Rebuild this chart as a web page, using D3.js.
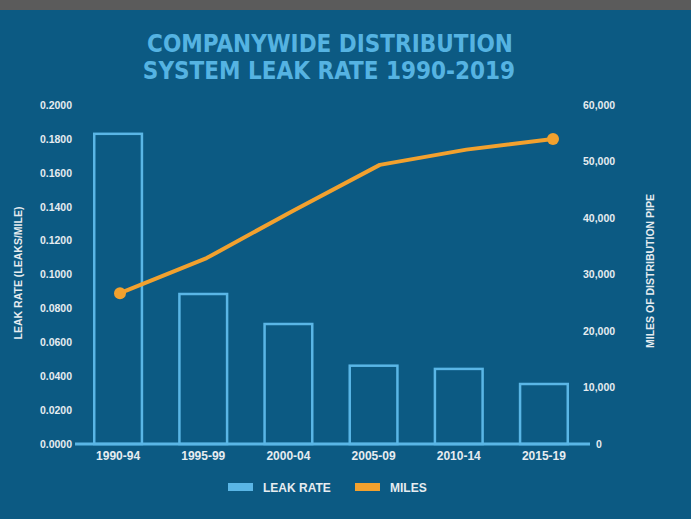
<!DOCTYPE html>
<html>
<head>
<meta charset="utf-8">
<script src="https://cdn.jsdelivr.net/npm/d3@7"></script>
<style>
  html, body { margin: 0; padding: 0; background: #0c5a83; }
  svg { display: block; }
</style>
</head>
<body>
<svg id="chart" width="691" height="519"></svg>
<script>
// data
const periods = ["1990-94", "1995-99", "2000-04", "2005-09", "2010-14", "2015-19"];
const leakRate = [0.1830, 0.0885, 0.0708, 0.0462, 0.0443, 0.0354];
const miles = [26700, 32900, 41300, 49400, 52100, 54000];
const leftTicks = [0, 0.02, 0.04, 0.06, 0.08, 0.10, 0.12, 0.14, 0.16, 0.18, 0.20];
const rightTicks = [0, 10000, 20000, 30000, 40000, 50000, 60000];

const svg = d3.select("#chart");
const W = +svg.attr("width"), H = +svg.attr("height");
const plotTop = 105, plotBottom = 444; // plot area
const barBlue = "#5ab6e6", orange = "#f2a12e", txt = "#e6ecf0";
const font = "'Liberation Sans', Arial";

// background + grey strip on top
svg.append("rect").attr("width", W).attr("height", H).attr("fill", "#0c5a83");
svg.append("rect").attr("width", W).attr("height", 10).attr("fill", "#5b5b5b");

// title
const title = svg.append("text")
  .attr("text-anchor", "middle")
  .attr("fill", "#55b3e2")
  .attr("font-family", "'DejaVu Sans Condensed', 'DejaVu Sans'")
  .attr("font-weight", "bold")
  .attr("font-size", "24px");
title.append("tspan").attr("x", 330).attr("y", 52).text("COMPANYWIDE DISTRIBUTION");
title.append("tspan").attr("x", 329).attr("y", 79).text("SYSTEM LEAK RATE 1990-2019");

// scales
const x = d3.scaleBand().domain(periods).range([75.5, 586.5])
  .paddingInner(0.44).paddingOuter(0.22);
const xLine = d3.scalePoint().domain(periods).range([120, 553]);
const yL = d3.scaleLinear().domain([0, 0.2]).range([plotBottom, plotTop]);
const yR = d3.scaleLinear().domain([0, 60000]).range([plotBottom, plotTop]);

// left axis
const axL = svg.append("g").attr("transform", "translate(72,0)")
  .call(d3.axisLeft(yL).tickValues(leftTicks).tickSize(0).tickPadding(0)
    .tickFormat(d3.format(".4f")));
axL.select(".domain").remove();
axL.selectAll("text").attr("fill", txt).attr("font-size", "10.5px")
  .attr("font-family", font).attr("font-weight", "bold");

// right axis
const axR = svg.append("g").attr("transform", "translate(583,0)")
  .call(d3.axisRight(yR).tickValues(rightTicks).tickSize(0).tickPadding(0)
    .tickFormat(d3.format(",")));
axR.select(".domain").remove();
axR.selectAll("text").attr("fill", txt).attr("font-size", "10.5px")
  .attr("font-family", font).attr("font-weight", "bold")
  .attr("dx", d => d === 0 ? 13 : 0);

// axis titles
svg.append("text")
  .attr("transform", "translate(22,273) rotate(-90)")
  .attr("text-anchor", "middle").attr("fill", txt)
  .attr("font-family", font).attr("font-weight", "bold")
  .attr("font-size", "10.5px").text("LEAK RATE (LEAKS/MILE)");
svg.append("text")
  .attr("transform", "translate(654,271) rotate(-90)")
  .attr("text-anchor", "middle").attr("fill", txt)
  .attr("font-family", font).attr("font-weight", "bold")
  .attr("font-size", "10.5px").text("MILES OF DISTRIBUTION PIPE");

// bars (outlined)
svg.append("g").selectAll("rect").data(leakRate).join("rect")
  .attr("x", (d, i) => x(periods[i]))
  .attr("y", d => yL(d))
  .attr("width", x.bandwidth())
  .attr("height", d => plotBottom - yL(d))
  .attr("fill", "none")
  .attr("stroke", barBlue)
  .attr("stroke-width", 2.5);

// baseline
svg.append("line")
  .attr("x1", 75).attr("x2", 590).attr("y1", plotBottom).attr("y2", plotBottom)
  .attr("stroke", barBlue).attr("stroke-width", 3);

// category labels
svg.append("g").selectAll("text").data(periods).join("text")
  .attr("x", d => x(d) + x.bandwidth() / 2)
  .attr("y", 460)
  .attr("text-anchor", "middle").attr("fill", txt)
  .attr("font-family", font).attr("font-weight", "bold")
  .attr("font-size", "12px")
  .text(d => d);

// miles line
const line = d3.line().x((d, i) => xLine(periods[i])).y(d => yR(d));
svg.append("path").datum(miles)
  .attr("d", line)
  .attr("fill", "none").attr("stroke", orange)
  .attr("stroke-width", 4).attr("stroke-linejoin", "round");
svg.append("g").selectAll("circle")
  .data([0, miles.length - 1]).join("circle")
  .attr("cx", i => xLine(periods[i]))
  .attr("cy", i => yR(miles[i]))
  .attr("r", 6).attr("fill", orange);

// legend
const legend = [
  { name: "LEAK RATE", color: barBlue, x: 228 },
  { name: "MILES", color: orange, x: 355 }
];
const lg = svg.append("g").selectAll("g").data(legend).join("g")
  .attr("transform", d => "translate(" + d.x + ",483)");
lg.append("rect").attr("width", 25).attr("height", 8).attr("fill", d => d.color);
lg.append("text").attr("x", 35).attr("y", 9)
  .attr("fill", txt).attr("font-family", font)
  .attr("font-weight", "bold").attr("font-size", "12px")
  .text(d => d.name);
</script>
</body>
</html>
